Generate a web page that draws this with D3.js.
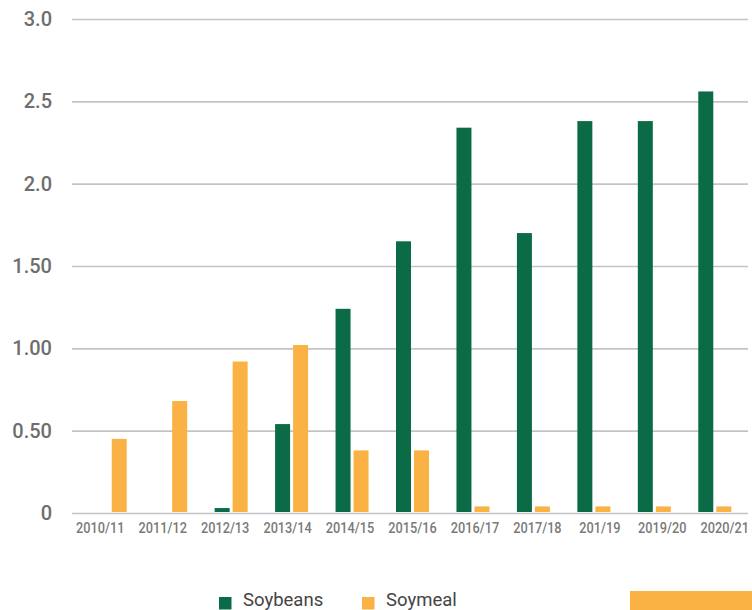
<!DOCTYPE html>
<html lang="en">
<head>
    <meta charset="UTF-8">
    <title>Soybeans / Soymeal</title>
    <script src="https://d3js.org/d3.v7.min.js"></script>
    <style>
    body{
        margin: 0;
        background: #fff;
    }
    svg{
        display: block;
    }
    svg text{
        font-family: Roboto, sans-serif;
    }
    .grid line{
        stroke: #c4c4c4;
        stroke-width: 1.6;
    }
    .grid path{
        display: none;
    }
    .yaxis text{
        font-size: 20px;
        font-weight: 500;
        fill: #6e6e6e;
    }
    .xaxis text{
        font-size: 15px;
        font-weight: 500;
        fill: #7a7a7a;
    }
    .xaxis path, .xaxis line{
        display: none;
    }
    .legendTxt{
        font-size: 18.5px;
        fill: #444;
    }
    </style>
</head>
<body>
    <script>
    var width = 752;
    var height = 610;

    // data
    var categories = ["2010/11","2011/12","2012/13","2013/14","2014/15","2015/16","2016/17","2017/18","201/19","2019/20","2020/21"];
    var soybeans = [0, 0, 0.03, 0.54, 1.24, 1.65, 2.34, 1.70, 2.38, 2.38, 2.56];
    var soymeal  = [0.45, 0.68, 0.92, 1.02, 0.38, 0.38, 0.04, 0.04, 0.04, 0.04, 0.04];
    var yTicks = [0, 0.5, 1, 1.5, 2, 2.5, 3];
    var yTickLabels = ["0", "0.50", "1.00", "1.50", "2.0", "2.5", "3.0"];
    var seriesNames = ["Soybeans", "Soymeal"];
    var colors = ["#0b6b47", "#fbb244"];

    var svg = d3.select("body")
        .append("svg")
        .attr("width", width)
        .attr("height", height);

    // scales
    var yScale = d3.scaleLinear()
        .domain([0, 3])
        .range([513, 19]);

    var xBars = d3.scaleBand()
        .domain(categories)
        .range([80, 745]);

    var xLabels = d3.scaleBand()
        .domain(categories)
        .range([69, 756]);

    // gridlines + y labels
    var yAxis = d3.axisLeft(yScale)
        .tickValues(yTicks)
        .tickSize(-(748 - 72))
        .tickPadding(20)
        .tickFormat(function(d, i){ return yTickLabels[i]; });

    svg.append("g")
        .attr("class", "grid yaxis")
        .attr("transform", "translate(72,0)")
        .call(yAxis);

    // x labels (narrowed a bit, the source font is condensed)
    var xAxis = d3.axisBottom(xLabels)
        .tickSize(0)
        .tickPadding(9);

    svg.append("g")
        .attr("class", "xaxis")
        .attr("transform", "translate(0,513)")
        .call(xAxis)
        .selectAll("text")
        .attr("transform", "scale(0.85,1)");

    // bars
    var barW = 15;
    var groups = svg.append("g").attr("class", "bars")
        .selectAll("g")
        .data(categories).enter()
        .append("g")
        .attr("transform", function(d){
            return "translate(" + (xBars(d) + xBars.bandwidth() / 2) + ",0)";
        });

    groups.append("rect")
        .attr("x", -barW - 1.5)
        .attr("width", barW)
        .attr("y", function(d, i){ return yScale(soybeans[i]); })
        .attr("height", function(d, i){ return yScale(0) - yScale(soybeans[i]) - 1; })
        .attr("fill", colors[0]);

    groups.append("rect")
        .attr("x", 1.5)
        .attr("width", barW)
        .attr("y", function(d, i){ return yScale(soymeal[i]); })
        .attr("height", function(d, i){ return yScale(0) - yScale(soymeal[i]) - 1; })
        .attr("fill", colors[1]);

    // legend
    var legendX = [219, 362];
    var legend = svg.append("g").attr("class", "legend");
    var items = legend.selectAll("g")
        .data(seriesNames).enter()
        .append("g")
        .attr("transform", function(d, i){ return "translate(" + legendX[i] + ",597)"; });
    items.append("rect")
        .attr("width", 12.5)
        .attr("height", 12.5)
        .attr("fill", function(d, i){ return colors[i]; });
    items.append("text")
        .attr("class", "legendTxt")
        .attr("x", 24)
        .attr("y", 9)
        .text(function(d){ return d; });

    // stray orange block bottom right
    svg.append("rect")
        .attr("x", 630)
        .attr("y", 591)
        .attr("width", 122)
        .attr("height", 19)
        .attr("fill", colors[1]);
    </script>
</body>
</html>
